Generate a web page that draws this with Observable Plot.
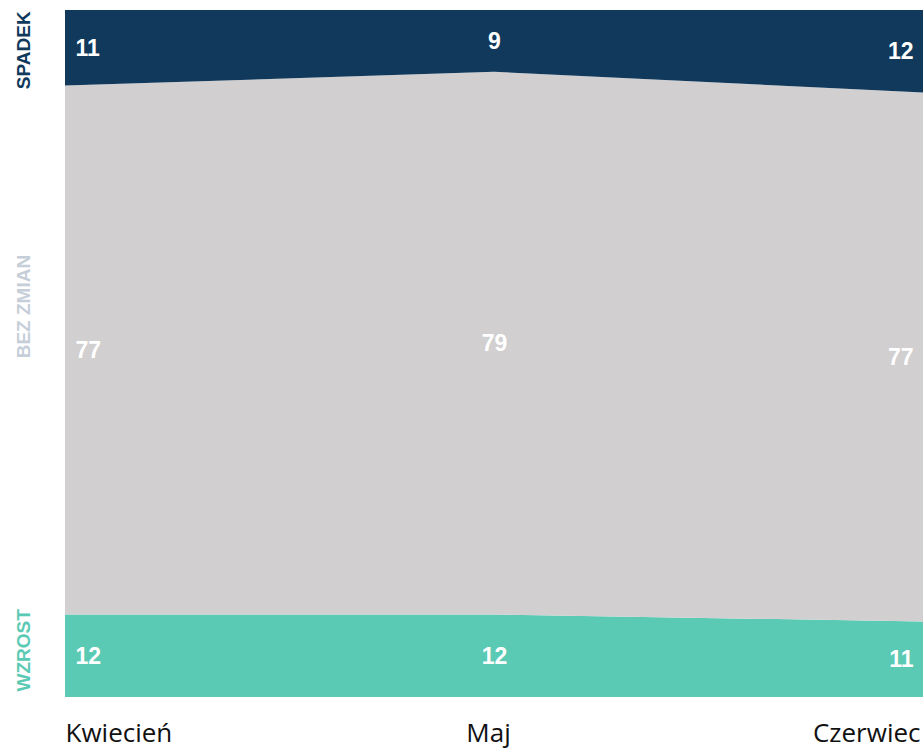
<!DOCTYPE html>
<html>
<head>
<meta charset="utf-8">
<script src="https://cdn.jsdelivr.net/npm/d3@7"></script>
<script src="https://cdn.jsdelivr.net/npm/@observablehq/plot@0.6"></script>
<style>
  html, body { margin: 0; padding: 0; background: #fff; }
</style>
</head>
<body>
<div id="chart"></div>
<script>
const months = ["Kwiecień", "Maj", "Czerwiec"];
const series = ["WZROST", "BEZ ZMIAN", "SPADEK"];
const wzrost = [12, 12, 11];
const bezZmian = [77, 79, 77];
const spadek = [11, 9, 12];
const fillColors = ["#5bcab4", "#d1cfd0", "#10395c"];
const labelColors = ["#5bcab4", "#c6cfd9", "#10395c"];

const values = [wzrost, bezZmian, spadek];
const data = [];
series.forEach((s, si) => {
  months.forEach((m, i) => {
    data.push({i, month: m, series: s, value: values[si][i]});
  });
});

// midpoints of the first column for the series names
const firstMid = [];
let acc = 0;
series.forEach((s, si) => {
  const v = values[si][0];
  firstMid.push({series: s, y: acc + v / 2});
  acc += v;
});

const valueText = (i, anchor, dx) => Plot.text(
  data.filter(d => d.i === i),
  Plot.stackY({
    x: "i", y: "value", z: "series", text: d => String(d.value),
    textAnchor: anchor, dx, fill: "white", fontSize: 23, fontWeight: "bold",
    fontFamily: "Liberation Sans, Arial, sans-serif"
  })
);

const monthText = (i, anchor, dx) => Plot.text([months[i]], {
  x: () => i, text: d => d, frameAnchor: "bottom", lineAnchor: "top", dy: 26, dx,
  textAnchor: anchor, fontSize: 26, fontFamily: "Open Sans, sans-serif", fill: "#111"
});

const seriesText = (k, dy) => Plot.text([firstMid[k]], {
  x: () => 0, y: "y", text: "series", rotate: -90, dx: -42, dy,
  fill: labelColors[k], fontSize: 19, fontWeight: "bold",
  fontFamily: "Liberation Sans, Arial, sans-serif"
});

const chart = Plot.plot({
  width: 923,
  height: 749,
  marginLeft: 65,
  marginRight: 0,
  marginTop: 10,
  marginBottom: 52,
  x: {domain: [0, 2], axis: null},
  y: {domain: [0, 100], axis: null},
  color: {domain: series, range: fillColors},
  marks: [
    Plot.areaY(data, {x: "i", y: "value", z: "series", fill: "series", curve: "linear"}),
    valueText(0, "start", 10),
    valueText(1, "middle", 0),
    valueText(2, "end", -10),
    monthText(0, "start", 0),
    monthText(1, "middle", -6),
    monthText(2, "end", -3),
    seriesText(0, -6),
    seriesText(1, -44),
    seriesText(2, 2)
  ]
});
document.getElementById("chart").appendChild(chart);
</script>
</body>
</html>
